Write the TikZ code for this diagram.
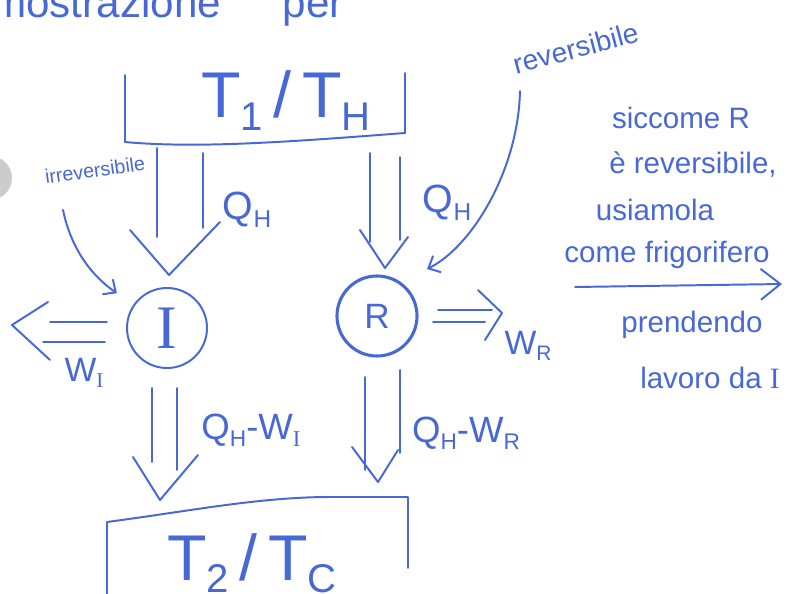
\documentclass[tikz,border=0pt]{standalone}
\usepackage{fontspec}
\setmainfont{Liberation Sans}
\newfontfamily\serif{Liberation Serif}
\usetikzlibrary{arrows.meta, positioning}
\definecolor{ink}{RGB}{72,104,214}
\newcommand{\lo}[1]{\raisebox{-0.2em}{\scalebox{0.62}{#1}}}
\newcommand{\fs}[1]{\fontsize{#1}{#1}\selectfont}

\begin{document}
\begin{tikzpicture}[x=0.025cm, y=0.025cm, ink, line width=1.4pt, line cap=round, line join=round,
    engine/.style={circle, draw, minimum size=2cm, inner sep=0pt},
    pointer/.style={-{Straight Barb[length=7pt, width=13pt]}},
    note/.style={font=\fs{21}, inner sep=0pt},
    lab/.style={font=\fs{26}, inner sep=0pt}]
    \useasboundingbox (0,0) rectangle (794,593);
    \fill[gray!40] (-10,415) circle (22);
    % title, cut by the top edge
    \node[anchor=base east, font=\fs{30}, inner sep=0pt] (title) at (222,575) {dimostrazione};
    \node[anchor=base west, font=\fs{30}, inner sep=0pt] (titlep) at (282,575) {per};
    % Define the reservoirs
    \draw (125,518) -- (125,451) .. controls (200,444) and (300,452) .. (405,460) -- (405,520);
    \node[anchor=base, font=\fs{46}, inner sep=0pt] (hot) at (286,475) {T\lo{1}\,/\,T\lo{H}};
    \draw (107,-10) -- (107,71) .. controls (190,82) and (260,96) .. (330,96) -- (408,96) -- (408,25);
    \node[anchor=base, font=\fs{46}, inner sep=0pt] (cold) at (252,13) {T\lo{2}\,/\,T\lo{C}};
    % Define the engines
    \node[engine, font=\fs{44}\serif] (I) at (167,265) {I};
    \node[engine, line width=2.2pt, font=\fs{25}] (R) at (377,277) {R};
    % heat into I
    \coordinate (inI) at (169,318);
    \draw (157,445) -- (157,356) (203,440) -- (203,365);
    \draw (130,363) -- (inI) -- (220,371);
    \node[lab, font=\fs{28}] (qI) at (247,383) {Q\lo{H}};
    % heat into R
    \coordinate (inR) at (385,325);
    \draw (370,440) -- (370,351) (400,436) -- (400,353);
    \draw (360,363) -- (inR) -- (408,356);
    \node[lab, font=\fs{28}] (qR) at (447,390) {Q\lo{H}};
    % work out of I
    \coordinate (outWI) at (12,268);
    \draw (107,271) -- (50,271) (105,251) -- (43,251);
    \draw (48,291) -- (outWI) -- (50,233);
    \node[lab, font=\fs{24}] (wI) at (84,220) {W\lo{\serif I}};
    % work out of R
    \coordinate (outWR) at (502,280);
    \draw (438,283) -- (492,283) (433,271) -- (485,271);
    \draw (478,303) -- (outWR) -- (485,253);
    \node[lab, font=\fs{24}] (wR) at (528,247) {W\lo{R}};
    % heat out of I
    \coordinate (outI) at (160,93);
    \draw (152,205) -- (152,131) (177,205) -- (177,123);
    \draw (133,136) -- (outI) -- (198,138);
    \node[lab] (qI2) at (251,163) {Q\lo{H}-W\lo{\serif I}};
    % heat out of R
    \coordinate (outR) at (378,111);
    \draw (365,216) -- (365,123) (400,223) -- (400,140);
    \draw (352,146) -- (outR) -- (398,143);
    \node[lab] (qR2) at (466,160) {Q\lo{H}-W\lo{R}};
    % pointers to the engines
    \node[rotate=8, font=\fs{14}, inner sep=0pt] (irr) at (95,423) {irreversibile};
    \coordinate (irrFrom) at (63,383);
    \draw[pointer, shorten >=0.5cm] (irrFrom) .. controls (72,340) and (95,315) .. (I);
    \node[rotate=15, font=\fs{20}, inner sep=0pt] (rev) at (576,545) {reversibile};
    \coordinate (revFrom) at (520,502);
    \coordinate (revTo) at (427,324);
    \draw[pointer] (revFrom) .. controls (518,420) and (470,345) .. (revTo);
    % note on the right
    \node[note] (n1) at (681,475) {siccome R};
    \node[note] (n2) at (693,428) {è reversibile,};
    \node[note] (n3) at (655,383) {usiamola};
    \node[note] (n4) at (667,338) {come frigorifero};
    \coordinate (ulFrom) at (575,306);
    \coordinate (ulTo) at (782,309);
    \draw[-{Straight Barb[length=14pt, width=22pt]}] (ulFrom) -- (ulTo);
    \node[note] (n5) at (692,268) {prendendo};
    \node[note] (n6) at (710,215) {lavoro da {\serif I}};
\end{tikzpicture}
\end{document}
